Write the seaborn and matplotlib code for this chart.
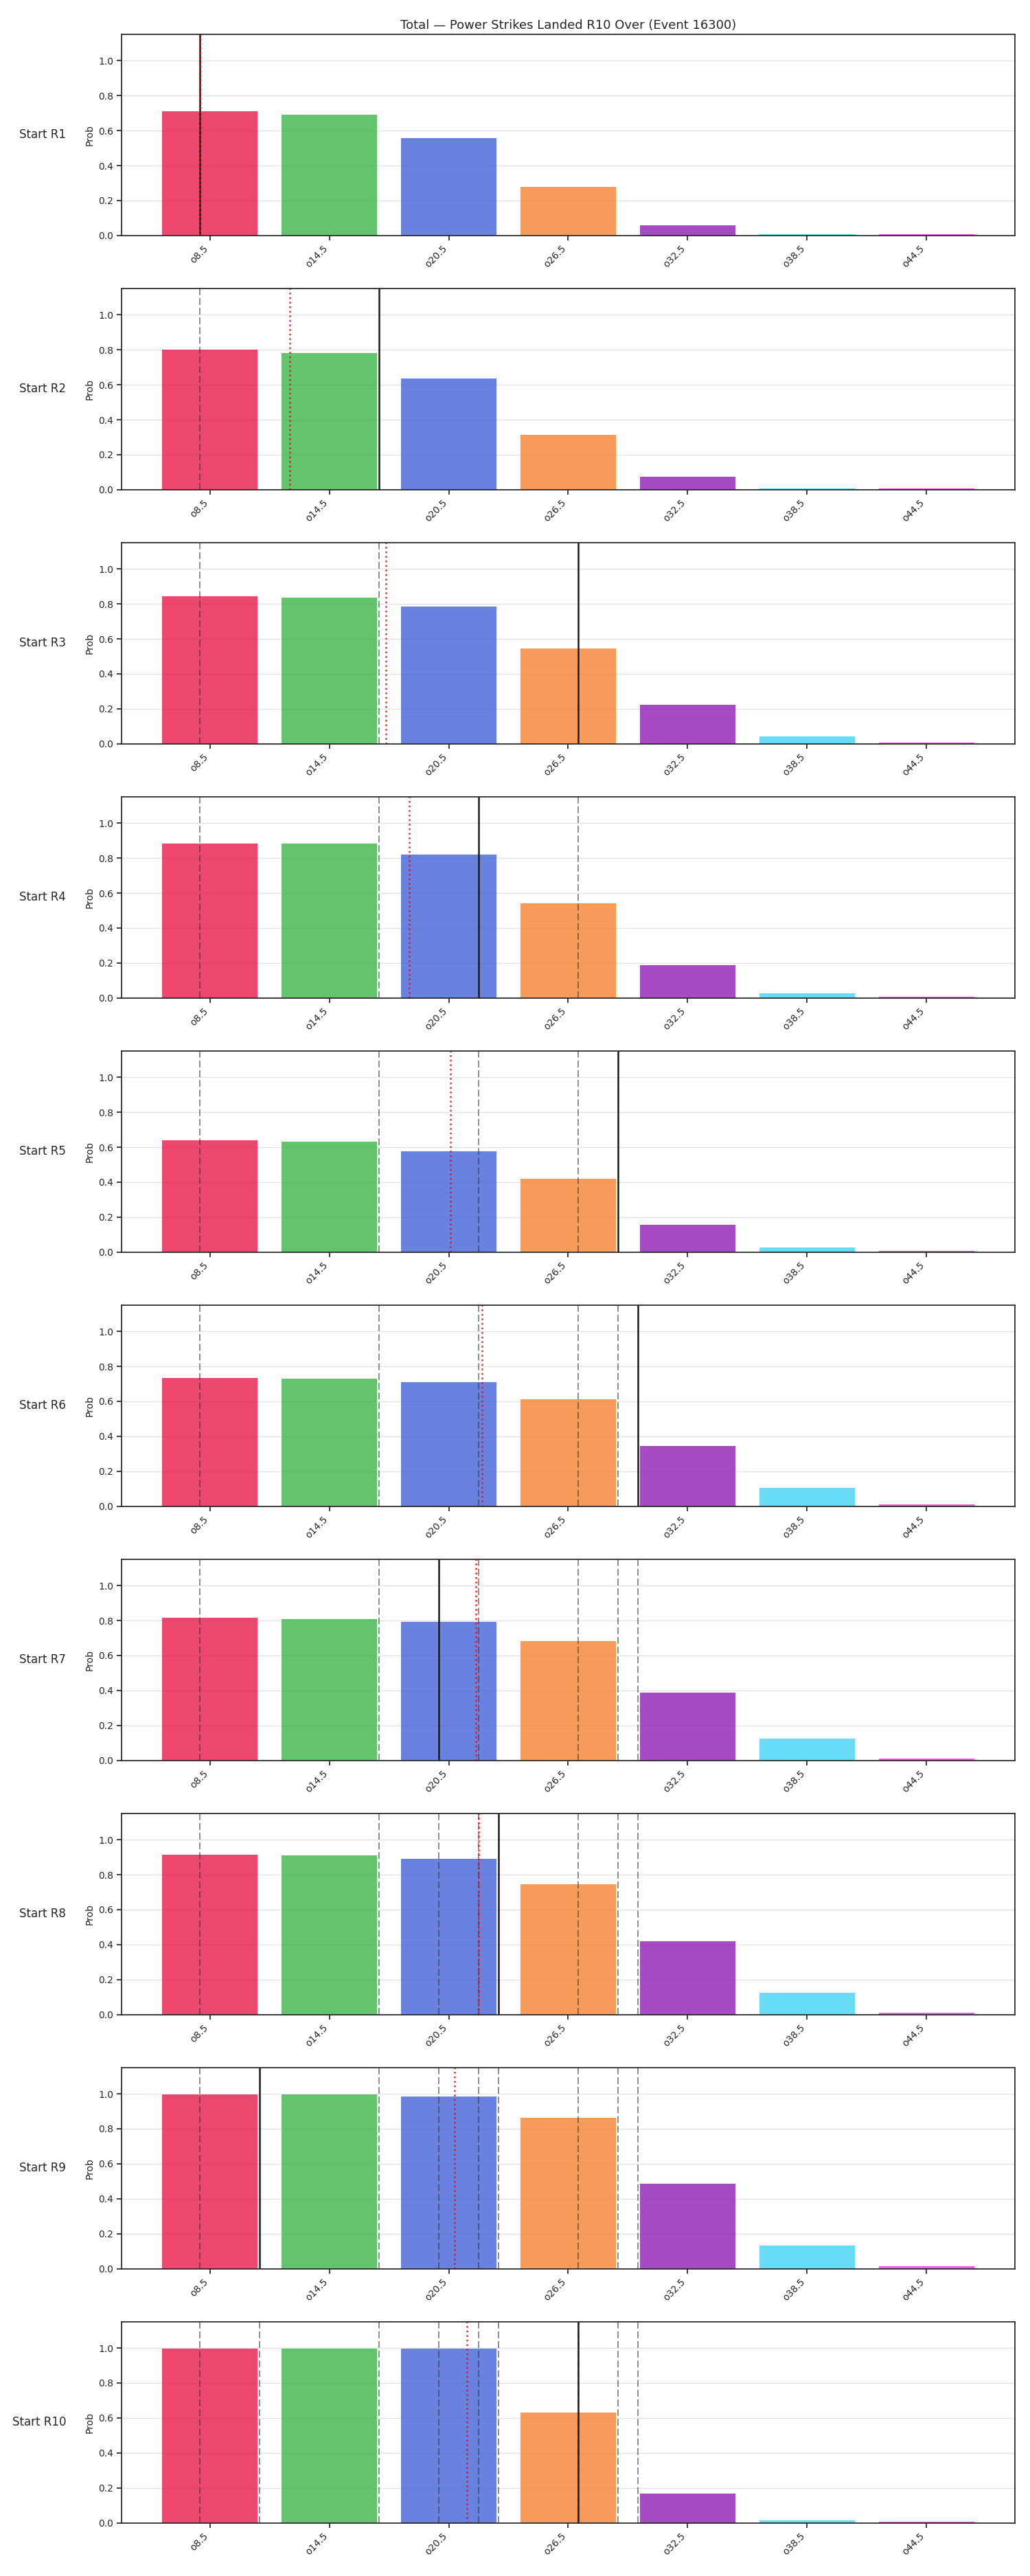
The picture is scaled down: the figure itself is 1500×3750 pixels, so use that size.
import numpy as np
import pandas as pd
import matplotlib
matplotlib.use("Agg")
import matplotlib.pyplot as plt
import seaborn as sns

# ---- data ----
line_labels = ["o8.5", "o14.5", "o20.5", "o26.5", "o32.5", "o38.5", "o44.5"]
line_values = [8.5, 14.5, 20.5, 26.5, 32.5, 38.5, 44.5]
start_rounds = ["R1", "R2", "R3", "R4", "R5", "R6", "R7", "R8", "R9", "R10"]

prob_r1 = [0.710, 0.690, 0.557, 0.277, 0.059, 0.008, 0.007]
prob_r2 = [0.801, 0.781, 0.636, 0.313, 0.075, 0.007, 0.007]
prob_r3 = [0.845, 0.834, 0.785, 0.545, 0.224, 0.042, 0.007]
prob_r4 = [0.884, 0.884, 0.821, 0.541, 0.189, 0.026, 0.007]
prob_r5 = [0.640, 0.632, 0.578, 0.419, 0.157, 0.027, 0.007]
prob_r6 = [0.735, 0.730, 0.710, 0.612, 0.345, 0.105, 0.010]
prob_r7 = [0.816, 0.809, 0.793, 0.683, 0.388, 0.124, 0.010]
prob_r8 = [0.915, 0.911, 0.891, 0.746, 0.419, 0.124, 0.010]
prob_r9 = [0.997, 0.997, 0.986, 0.864, 0.486, 0.134, 0.014]
prob_r10 = [0.997, 0.997, 0.997, 0.632, 0.168, 0.014, 0.007]
probs = [prob_r1, prob_r2, prob_r3, prob_r4, prob_r5,
         prob_r6, prob_r7, prob_r8, prob_r9, prob_r10]

# solid black marker per row (round result), earlier ones shown dashed
round_totals = [8, 17, 27, 22, 29, 30, 20, 23, 11, 27]
# red dotted marker per row
running_avg = [8.0, 12.5, 17.33, 18.5, 20.6, 22.17, 21.86, 22.0, 20.78, 21.4]

palette = ["#e6194b", "#3cb44b", "#4363d8", "#f58231",
           "#911eb4", "#42d4f4", "#f032e6"]

title = "Total \u2014 Power Strikes Landed R10 Over (Event 16300)"

# ---- style ----
sns.set_style("ticks")
plt.rcParams["font.family"] = ["DejaVu Sans"]
plt.rcParams["axes.edgecolor"] = "#262626"
plt.rcParams["axes.linewidth"] = 1.25


def to_pos(v):
    # map a numeric total onto the categorical axis of the lines
    step = line_values[1] - line_values[0]
    return (v - line_values[0]) / step


fig, axes = plt.subplots(len(start_rounds), 1, figsize=(15, 37.5), dpi=100)
fig.subplots_adjust(left=0.118, right=0.9853, top=0.98667, bottom=0.0206,
                    hspace=0.263)

for i, ax in enumerate(axes):
    df = pd.DataFrame({"line": line_labels, "prob": probs[i]})
    ax.yaxis.grid(True, color="#e3e3e3", linewidth=1.0)
    ax.xaxis.grid(False)
    ax.set_axisbelow(True)
    sns.barplot(data=df, x="line", y="prob", hue="line", palette=palette,
                order=line_labels, hue_order=line_labels, legend=False,
                saturation=1, alpha=0.8, width=0.8, linewidth=0,
                ax=ax)
    # previous rounds
    for j in range(i):
        ax.axvline(to_pos(round_totals[j]), color="#333333", alpha=0.65,
                   linestyle="--", linewidth=1.2, dashes=(6, 2.5))
    ax.axvline(to_pos(round_totals[i]), color="#1a1a1a", linewidth=1.8)
    ax.axvline(to_pos(running_avg[i]), color="red", alpha=0.85,
               linestyle=":", linewidth=1.8)

    ax.set_xlim(-0.74, 6.74)
    ax.set_ylim(0, 1.15)
    ax.set_yticks([0.0, 0.2, 0.4, 0.6, 0.8, 1.0])
    ax.set_ylabel("Prob", fontsize=10)
    ax.set_xlabel("")
    ax.tick_params(axis="both", labelsize=10, length=5, width=1.25,
                   color="#262626")
    ax.set_xticks(range(len(line_labels)))
    ax.set_xticklabels(line_labels, rotation=45, ha="right")
    for s in ax.spines.values():
        s.set_visible(True)
    ax.text(-0.062, 0.5, "Start " + start_rounds[i], transform=ax.transAxes,
            ha="right", va="center", fontsize=12)
    if i == 0:
        ax.set_title(title, fontsize=13)

fig.savefig("out.png", dpi=100)
